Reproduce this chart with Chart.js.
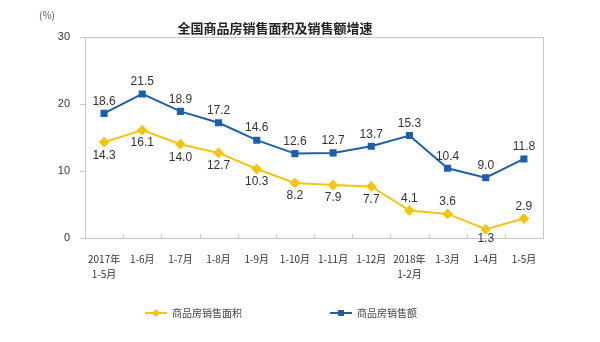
<!DOCTYPE html>
<html>
<head>
<meta charset="utf-8">
<script src="https://cdn.jsdelivr.net/npm/chart.js@4.4.0/dist/chart.umd.min.js"></script>
<style>
  html, body { margin: 0; padding: 0; background: #fff; }
  #wrap { width: 600px; height: 342px; position: relative; }
</style>
</head>
<body>
<div id="wrap"><canvas id="graf" width="600" height="342"></canvas></div>
<script>
// data
const mois = [["2017年", "1-5月"], "1-6月", "1-7月", "1-8月", "1-9月", "1-10月", "1-11月", "1-12月", ["2018年", "1-2月"], "1-3月", "1-4月", "1-5月"];
const surface = [14.3, 16.1, 14.0, 12.7, 10.3, 8.2, 7.9, 7.7, 4.1, 3.6, 1.3, 2.9];
const ventes = [18.6, 21.5, 18.9, 17.2, 14.6, 12.6, 12.7, 13.7, 15.3, 10.4, 9.0, 11.8];
// label above (true) or below (false) for the yellow line
const surfaceHaut = [false, false, false, false, false, false, false, false, true, true, false, true];
const yTicks = [0, 10, 20, 30];

const jaune = "#f2c511";
const bleu = "#1c5faa";
const police = "'Noto Sans CJK SC', 'DejaVu Sans', sans-serif";

// draws the box, the value labels, title and legend
const deco = {
  id: "deco",
  beforeDatasetsDraw(chart) {
    const c = chart.ctx, a = chart.chartArea;
    c.save();
    c.strokeStyle = "#c8c8c8";
    c.lineWidth = 1;
    c.strokeRect(a.left + 0.5, a.top + 0.5, a.right - a.left, a.bottom - a.top);
    // small tick marks between categories, pointing up
    const x = chart.scales.x;
    for (let i = 1; i < mois.length; i++) {
      const px = Math.round((x.getPixelForValue(i - 1) + x.getPixelForValue(i)) / 2) + 0.5;
      c.beginPath();
      c.moveTo(px, a.bottom);
      c.lineTo(px, a.bottom - 4);
      c.stroke();
    }
    c.restore();
  },
  afterDatasetsDraw(chart) {
    const c = chart.ctx;
    c.save();
    c.font = "12px Arial, 'Liberation Sans', sans-serif";
    c.fillStyle = "#333";
    c.textAlign = "center";
    const m0 = chart.getDatasetMeta(0), m1 = chart.getDatasetMeta(1);
    m1.data.forEach((p, i) => {
      c.textBaseline = "bottom";
      c.fillText(ventes[i].toFixed(1), p.x, p.y - 6);
    });
    m0.data.forEach((p, i) => {
      if (surfaceHaut[i]) {
        c.textBaseline = "bottom";
        c.fillText(surface[i].toFixed(1), p.x, p.y - 6);
      } else {
        c.textBaseline = "top";
        c.fillText(surface[i].toFixed(1), p.x, p.y + (i === 10 ? 3 : 7));
      }
    });

    // title and unit
    c.fillStyle = "#222";
    c.textBaseline = "middle";
    c.font = "bold 13px " + police;
    c.fillText("全国商品房销售面积及销售额增速", 275, 28);
    c.font = "10px " + police;
    c.fillStyle = "#555";
    c.fillText("(%)", 47, 15);

    // legend
    const items = [
      { x: 145, color: jaune, txt: "商品房销售面积", shape: "diamond" },
      { x: 330, color: bleu, txt: "商品房销售额", shape: "square" }
    ];
    items.forEach(it => {
      const y = 313;
      c.strokeStyle = it.color;
      c.lineWidth = 2;
      c.beginPath();
      c.moveTo(it.x, y);
      c.lineTo(it.x + 22, y);
      c.stroke();
      c.fillStyle = it.color;
      if (it.shape === "square") {
        c.fillRect(it.x + 8, y - 3, 6, 6);
      } else {
        c.beginPath();
        c.moveTo(it.x + 11, y - 4);
        c.lineTo(it.x + 15, y);
        c.lineTo(it.x + 11, y + 4);
        c.lineTo(it.x + 7, y);
        c.closePath();
        c.fill();
      }
      c.fillStyle = "#444";
      c.font = "10px " + police;
      c.textAlign = "left";
      c.fillText(it.txt, it.x + 27, y);
    });
    c.restore();
  }
};

const ctx = document.querySelector("#graf").getContext("2d");
const graf = new Chart(ctx, {
  type: "line",
  data: {
    labels: mois,
    datasets: [{
      label: "商品房销售面积",
      data: surface,
      borderColor: jaune,
      backgroundColor: jaune,
      borderWidth: 2,
      pointStyle: "rectRot",
      pointRadius: 4,
      pointHoverRadius: 4,
      tension: 0
    }, {
      label: "商品房销售额",
      data: ventes,
      borderColor: bleu,
      backgroundColor: bleu,
      borderWidth: 2,
      pointStyle: "rect",
      pointRadius: 3.6,
      pointHoverRadius: 3.6,
      tension: 0
    }]
  },
  options: {
    responsive: false,
    animation: false,
    events: [],
    layout: { padding: { top: 37, right: 57, bottom: 0, left: 0 } },
    plugins: {
      legend: { display: false },
      title: { display: false },
      tooltip: { enabled: false }
    },
    scales: {
      x: {
        offset: true,
        grid: { display: false },
        border: { display: false },
        ticks: {
          color: "#333",
          font: { size: 10, family: police, lineHeight: 1.5 },
          maxRotation: 0,
          autoSkip: false,
          padding: 6
        },
        afterFit(s) { s.height = 104; }
      },
      y: {
        min: 0,
        max: 30,
        afterBuildTicks(s) { s.ticks = yTicks.map(v => ({ value: v })); },
        grid: { drawOnChartArea: false, tickLength: 5, color: "#c8c8c8" },
        border: { display: false },
        ticks: {
          color: "#333",
          font: { size: 11, family: "Arial, 'Liberation Sans', sans-serif" },
          padding: 10
        },
        afterFit(s) { s.width = 85; }
      }
    }
  },
  plugins: [deco]
});
</script>
</body>
</html>
